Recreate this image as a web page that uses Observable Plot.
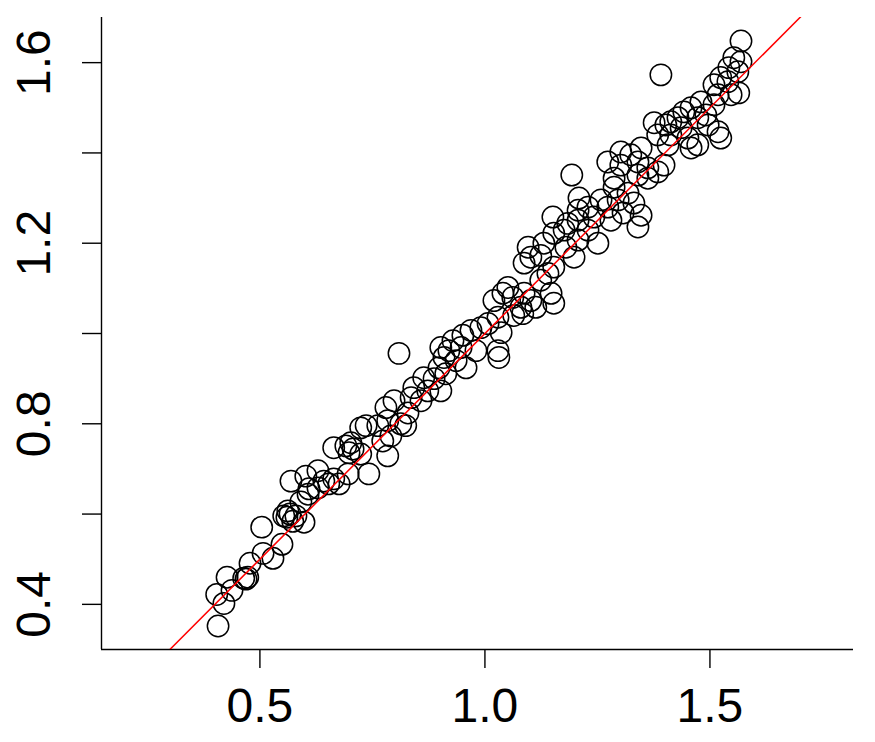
<!DOCTYPE html>
<html>
<head>
<meta charset="utf-8">
<script src="https://cdn.jsdelivr.net/npm/d3@7"></script>
<script src="https://cdn.jsdelivr.net/npm/@observablehq/plot@0.6"></script>
<style>
  html, body { margin: 0; padding: 0; background: #fff; }
  #chart svg { display: block; }
</style>
</head>
<body>
<div id="chart"></div>
<script>
// Observed values (x) and fitted/predicted values (y)
const xs = [
  0.407,0.420,0.404,0.438,0.427,0.464,0.469,0.473,0.478,0.507,0.529,0.504,0.549,0.553,0.560,0.567,0.598,0.573,
  0.562,0.580,0.569,0.602,0.609,0.629,0.629,0.642,0.653,0.664,0.676,0.696,0.742,0.664,0.691,0.698,0.707,0.702,0.724,0.784,0.773,0.791,0.736,0.762,0.824,0.724,0.591,0.607,
  0.809,0.784,0.798,0.780,0.813,0.829,0.836,0.842,0.858,0.864,0.873,0.887,0.898,0.902,0.913,0.902,0.909,0.920,0.929,0.936,0.947,0.951,0.958,0.969,0.980,0.991,1.007,1.029,1.031,1.036,1.029,1.064,1.084,
  1.020,1.040,1.051,1.062,1.080,1.087,1.102,1.113,1.153,1.147,1.124,1.140,1.087,1.102,1.096,1.124,1.131,1.153,1.153,1.176,1.180,1.207,1.198,1.151,1.184,1.207,1.209,1.207,1.229,1.242,1.229,1.251,1.258,1.273,1.280,1.296,1.307,1.318,1.331,1.340,1.287,1.193,
  1.391,1.569,1.553,1.569,1.542,1.562,1.524,1.509,1.540,1.564,1.547,1.518,1.480,1.509,1.491,1.458,1.473,1.442,1.429,1.436,1.413,1.402,1.376,1.384,1.413,1.451,1.473,1.518,1.524,1.496,1.458,1.407,1.347,1.324,1.302,1.340,1.362,1.398,1.384,1.362,1.340,1.302,1.273,1.287,1.347
];
const ys = [
  0.352,0.402,0.422,0.431,0.460,0.458,0.456,0.460,0.491,0.513,0.502,0.571,0.533,0.596,0.593,0.600,0.582,0.584,
  0.607,0.596,0.673,0.684,0.656,0.696,0.658,0.673,0.667,0.678,0.667,0.689,0.689,0.747,0.751,0.736,0.744,0.758,0.733,0.729,0.762,0.773,0.796,0.796,0.796,0.791,0.627,0.644,
  0.956,0.807,0.851,0.836,0.800,0.824,0.858,0.880,0.851,0.902,0.873,0.900,0.924,0.873,0.911,0.969,0.947,0.962,0.984,0.940,0.969,0.996,0.924,1.007,0.962,1.013,1.022,0.962,0.947,1.002,1.036,1.040,1.044,
  1.073,1.089,1.102,1.080,1.058,1.089,1.073,1.058,1.067,1.089,1.118,1.133,1.156,1.169,1.191,1.173,1.200,1.147,1.222,1.229,1.191,1.207,1.169,1.258,1.244,1.251,1.300,1.273,1.280,1.258,1.229,1.200,1.296,1.280,1.251,1.296,1.267,1.311,1.289,1.236,1.324,1.351,
  1.573,1.648,1.611,1.602,1.589,1.580,1.567,1.551,1.558,1.533,1.529,1.529,1.513,1.507,1.484,1.500,1.478,1.491,1.478,1.456,1.469,1.462,1.467,1.440,1.440,1.433,1.418,1.447,1.433,1.462,1.411,1.418,1.411,1.396,1.402,1.380,1.367,1.373,1.358,1.344,1.351,1.373,1.380,1.344,1.262
];

const xDomain = [0.148, 1.819];
const yDomain = [0.3, 1.7];
const xTicks = [0.5, 1.0, 1.5];
const yTicks = [0.4, 0.6, 0.8, 1.0, 1.2, 1.4, 1.6];
const yLabels = [0.4, 0.8, 1.2, 1.6];
const identityLine = [0, 2]; // y = x reference line

const points = xs.map((x, i) => ({x, y: ys[i]}));

const chart = Plot.plot({
  width: 875,
  height: 742,
  marginLeft: 101,
  marginRight: 22,
  marginTop: 17,
  marginBottom: 93,
  style: {fontFamily: "'Liberation Sans', Arial, Helvetica, sans-serif", background: "#fff", color: "#000"},
  x: {domain: xDomain, axis: null},
  y: {domain: yDomain, axis: null},
  marks: [
    Plot.ruleX([xDomain[0]], {stroke: "#000", strokeWidth: 1.4}),
    Plot.ruleY([yDomain[0]], {stroke: "#000", strokeWidth: 1.4}),
    Plot.axisX(xTicks, {tickSize: 19, tickPadding: 19, fontSize: 48, strokeWidth: 1.4, tickFormat: d => d.toFixed(1), label: null}),
    Plot.axisY(yTicks, {tickSize: 19, strokeWidth: 1.4, tickFormat: () => "", label: null}),
    Plot.axisY(yLabels, {tickSize: 0, tickPadding: 52, tickRotate: -90, fontSize: 48, tickFormat: d => d.toFixed(1), label: null}),
    Plot.dot(points, {x: "x", y: "y", r: 10.7, stroke: "#000", strokeWidth: 1.5, fill: "none"}),
    Plot.line(identityLine, {x: d => d, y: d => d, stroke: "#ff0000", strokeWidth: 1.5, clip: true})
  ]
});
document.getElementById("chart").appendChild(chart);
</script>
</body>
</html>
